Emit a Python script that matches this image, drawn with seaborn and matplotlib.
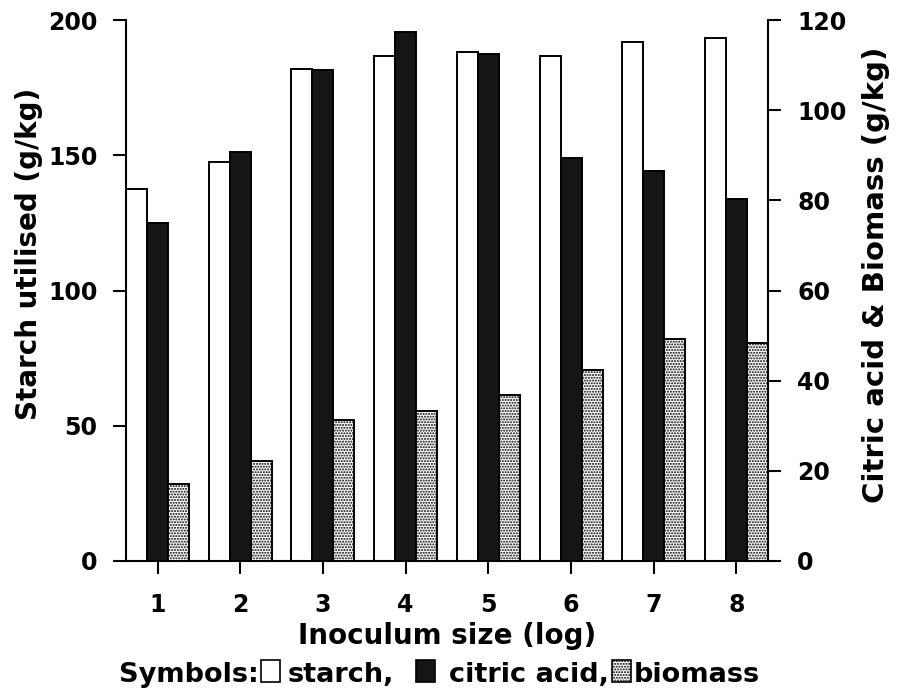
import matplotlib
matplotlib.use("Agg")
import matplotlib.pyplot as plt
from matplotlib.patches import Rectangle
import pandas as pd
import seaborn as sns

# Inoculum size (log) and the measured amounts, g/kg
inoculum_size = ["1", "2", "3", "4", "5", "6", "7", "8"]
starch = [137.5, 147.6, 181.9, 186.7, 188.3, 186.8, 192.0, 193.5]
citric_acid = [75.0, 90.8, 109.0, 117.3, 112.5, 89.3, 86.4, 80.3]
biomass = [17.1, 22.2, 31.3, 33.3, 36.8, 42.4, 49.2, 48.4]

series_order = ["starch", "citric acid", "biomass"]
left_ticks = [0, 50, 100, 150, 200]
right_ticks = [0, 20, 40, 60, 80, 100, 120]

sns.set_theme(style="ticks")
plt.rcParams["font.family"] = ["DejaVu Sans"]
plt.rcParams["font.weight"] = "bold"
plt.rcParams["hatch.linewidth"] = 1.0
plt.rcParams["hatch.color"] = "black"

df = pd.DataFrame({
    "size": inoculum_size * 3,
    "series": [s for s in series_order for _ in inoculum_size],
    "value": starch + citric_acid + biomass,
})
left_df = df[df["series"] == "starch"]
right_df = df[df["series"] != "starch"]

palette = {"starch": "white", "citric acid": "#151515", "biomass": "white"}
W, H = 897, 691
fig = plt.figure(figsize=(W / 100, H / 100), dpi=100)
ax = fig.add_axes([126 / W, 1 - 561 / H, (768 - 126) / W, (561 - 20) / H])
ax2 = ax.twinx()

group_width = 0.762
bar_kw = dict(x="size", y="value", hue="series", hue_order=series_order,
              order=inoculum_size, palette=palette, width=group_width,
              dodge=True, edgecolor="black", linewidth=1.4, errorbar=None,
              legend=False, saturation=1)
sns.barplot(data=left_df, ax=ax, **bar_kw)
sns.barplot(data=right_df, ax=ax2, **bar_kw)

# stipple the biomass bars (the white ones on the right-hand axis)
for p in ax2.patches:
    fc = p.get_facecolor()
    if fc[0] > 0.9:
        p.set_hatch("......")

half = group_width / 2
ax.set_xlim(-half, len(inoculum_size) - 1 + half)
ax.set_ylim(0, 200)
ax2.set_ylim(0, 120)
ax.set_yticks(left_ticks)
ax2.set_yticks(right_ticks)

lw = 1.5
for a in (ax, ax2):
    a.spines["top"].set_visible(False)
    for s in a.spines.values():
        s.set_linewidth(lw)
        s.set_color("black")
ax.spines["right"].set_visible(False)
ax2.spines["left"].set_visible(False)
ax2.spines["bottom"].set_visible(False)

ax.tick_params(axis="y", direction="out", length=9.5, width=lw,
               labelsize=17, pad=11, colors="black")
ax2.tick_params(axis="y", direction="out", length=9, width=lw,
                labelsize=17, pad=12, colors="black")
ax.tick_params(axis="x", direction="out", length=9, width=lw,
               labelsize=17, pad=14, colors="black")

label_font = dict(fontweight="bold", color="black")
ax.set_xlabel("Inoculum size (log)", labelpad=4, fontsize=20, **label_font)
ax.set_ylabel("Starch utilised (g/kg)", labelpad=4, fontsize=20, **label_font)
ax2.set_ylabel("Citric acid & Biomass (g/kg)", labelpad=11, fontsize=21,
               **label_font)
ax.yaxis.label.set_y(0.567)
ax2.yaxis.label.set_y(0.529)

# symbol key below the x-axis title, laid out piece by piece
renderer = fig.canvas.get_renderer()
base_y = 1 - 682 / H
txt = dict(fontsize=19.5, fontweight="bold", color="black", va="baseline")
box_w, box_h = 19, 22
cursor = 119


def add_text(s, gap_after):
    global cursor
    t = fig.text(cursor / W, base_y, s, **txt)
    cursor = t.get_window_extent(renderer).x1 + gap_after


def add_box(gap_after, **style):
    global cursor
    fig.add_artist(Rectangle((cursor / W, base_y), box_w / W, box_h / H,
                             transform=fig.transFigure, edgecolor="black",
                             linewidth=1.2, **style))
    cursor += box_w + gap_after


add_text("Symbols:", 2)
add_box(8, facecolor="white")
add_text("starch,", 22)
add_box(14, facecolor="#151515")
add_text("citric acid,", 3)
add_box(3, facecolor="white", hatch="......")
add_text("biomass", 0)

fig.savefig("out.png", dpi=100)
